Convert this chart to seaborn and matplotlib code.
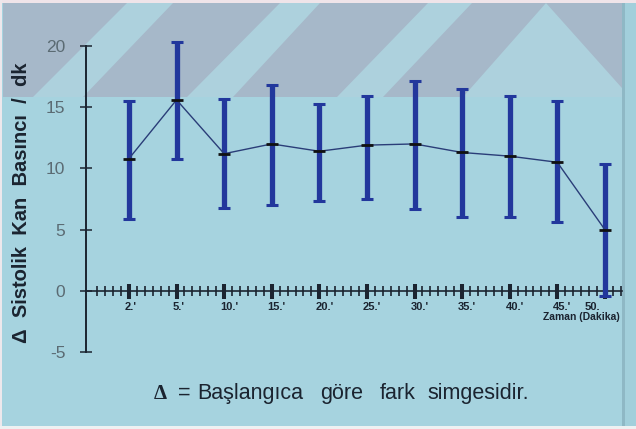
import matplotlib
matplotlib.use("Agg")
import matplotlib.pyplot as plt
from matplotlib.patches import Polygon
from matplotlib.transforms import ScaledTranslation
import numpy as np
import pandas as pd
import seaborn as sns

# Change in systolic blood pressure from baseline, by time point
minutes = ["2.'", "5.'", "10.'", "15.'", "20.'", "25.'", "30.'", "35.'", "40.'", "45.'", "50."]
mean_change = [10.8, 15.6, 11.2, 12.0, 11.4, 11.9, 12.0, 11.3, 11.0, 10.5, 5.0]
upper = [15.5, 20.35, 15.7, 16.8, 15.3, 15.9, 17.1, 16.45, 15.9, 15.5, 10.4]
lower = [5.9, 10.8, 6.8, 7.0, 7.3, 7.5, 6.7, 6.0, 6.0, 5.65, -0.4]
y_ticks = [-5, 0, 5, 10, 15, 20]

W, H = 636, 429
BG = "#a6d3df"
BAND = "#a6b8c9"
STRIPE = "#add1dd"
BAR = "#22379c"
LINE = "#2a3d78"
INK = "#1b2430"
GREY_TXT = "#5b6b73"

sns.set_style("ticks")
plt.rcParams["font.family"] = ["Liberation Sans", "DejaVu Sans"]
plt.rcParams["axes.unicode_minus"] = False

fig = plt.figure(figsize=(W / 100, H / 100), dpi=100, facecolor=BG)


def px(x, y):
    return (x / W, 1 - y / H)


def poly(points, color, z=-10):
    fig.add_artist(Polygon([px(*p) for p in points], closed=True,
                           transform=fig.transFigure, facecolor=color,
                           edgecolor="none", zorder=z))


# slide backdrop: grey band with light diagonal stripes and a chevron
poly([(3, 3), (622, 3), (622, 97), (3, 97)], BAND)
poly([(33, 97), (83, 97), (173, 3), (127, 3)], STRIPE)
poly([(187, 97), (233, 97), (320, 3), (280, 3)], STRIPE)
poly([(337, 97), (383, 97), (472, 3), (428, 3)], STRIPE)
poly([(463, 97), (546, 3), (630, 97)], STRIPE)
# edges of the slide frame
poly([(622, 0), (636, 0), (636, 429), (622, 429)], "#a2cfdb", z=-9)
poly([(622, 0), (624.5, 0), (624.5, 429), (622, 429)], "#8fb8c5", z=-8)
poly([(0, 0), (636, 0), (636, 3), (0, 3)], "#efe4e9", z=-8)
poly([(0, 0), (2, 0), (2, 429), (0, 429)], "#eee8ec", z=-8)
poly([(0, 426), (636, 426), (636, 429), (0, 429)], "#eef1f2", z=-8)

ax = fig.add_axes([86 / W, (H - 352) / H, 536 / W, 306 / H])
ax.set_facecolor("none")

pos = np.arange(len(minutes))
df = pd.DataFrame({"pos": pos, "mean": mean_change})

mean_arr = np.array(mean_change)
err = [mean_arr - np.array(lower), np.array(upper) - mean_arr]
ax.errorbar(pos, mean_arr, yerr=err, fmt="none", ecolor=BAR,
            elinewidth=3.8, capsize=4.0, capthick=2.2, clip_on=False, zorder=3)

sns.lineplot(data=df, x="pos", y="mean", ax=ax, color=LINE, lw=1.0,
             marker="_", markersize=8, markeredgewidth=2,
             markeredgecolor="#111111", zorder=4, clip_on=False)

ax.set_xlim(-0.903, 10.36)
ax.set_ylim(-5, 20)
ax.set_xlabel("")
ax.set_ylabel("")

for s in ["top", "right"]:
    ax.spines[s].set_visible(False)
ax.spines["left"].set_bounds(-5, 20)
ax.spines["left"].set_color(INK)
ax.spines["left"].set_linewidth(1.4)
ax.spines["bottom"].set_position(("data", 0))
ax.spines["bottom"].set_color(INK)
ax.spines["bottom"].set_linewidth(1.2)

ax.set_yticks(y_ticks)
ax.tick_params(axis="y", direction="inout", length=8.6, width=1.1,
               colors=INK, labelcolor=GREY_TXT, labelsize=12.5, pad=10.5)

ax.set_xticks(pos)
ax.set_xticklabels(minutes, fontsize=8, fontweight="bold", color=INK)
minor = [i + k / 6 for i in range(-1, 11) for k in range(1, 6)]
minor = [m for m in minor if -0.8 < m < 10.4]
ax.set_xticks(minor, minor=True)
ax.tick_params(axis="x", which="major", direction="inout", length=10.8,
               width=2.9, colors=INK, pad=3.0)
ax.tick_params(axis="x", which="minor", direction="inout", length=7.2,
               width=1.2, colors=INK)
labels = ax.get_xticklabels()
for i, lab in enumerate(labels):
    if i == len(labels) - 1:
        lab.set_ha("right")
        lab.set_transform(lab.get_transform() + ScaledTranslation(-5 / 100, 0, fig.dpi_scale_trans))
    else:
        lab.set_ha("left")
        lab.set_transform(lab.get_transform() + ScaledTranslation(-4 / 100, 0, fig.dpi_scale_trans))

fig.text(*px(620, 317), "Zaman (Dakika)", ha="right", va="center",
         fontsize=7.5, fontweight="bold", color=INK)

fig.text(*px(22, 203), "Δ  Sistolik  Kan  Basıncı  /  dk", rotation=90,
         ha="center", va="center", fontsize=14.5, fontweight="bold", color=INK)

# footnote explaining the delta symbol
fig.text(*px(154, 399), "Δ", ha="left", va="baseline", fontsize=15,
         fontweight="bold", fontfamily=["Liberation Serif", "DejaVu Serif"], color=INK)
caption_words = ["=", "Başlangıca", "göre", "fark", "simgesidir."]
caption_x = [178, 197, 320, 380, 427]
for word, x in zip(caption_words, caption_x):
    fig.text(*px(x, 399), word, ha="left", va="baseline", fontsize=15.5, color=INK)

fig.savefig("out.png", dpi=100, facecolor=BG)
